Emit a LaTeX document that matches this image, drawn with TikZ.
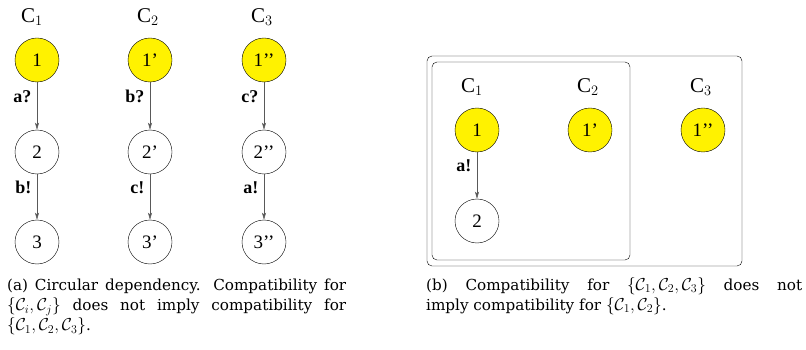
\documentclass[tikz,border=0pt]{standalone}
\usepackage{fontspec}
\newfontfamily\figfont{Liberation Serif}
\newfontfamily\capfont{DejaVu Serif}
\usetikzlibrary{arrows.meta}
\hyphenpenalty=10000
\exhyphenpenalty=10000
\DeclareMathSizes{15.2}{17.5}{12.5}{10}

\tikzset{
  state/.style={circle, draw, thin, minimum size=44pt, inner sep=0pt, font=\figfont\fontsize{19}{21}\selectfont},
  init/.style={state, fill=yellow},
  comp/.style={font=\figfont\fontsize{21}{23}\selectfont},
  act/.style={font=\figfont\bfseries\fontsize{18}{20}\selectfont},
  trans/.style={->, draw=black!65, semithick},
  caption/.style={anchor=north west, inner sep=0pt, align=justify,
    font=\capfont\fontsize{15.2}{20}\selectfont}
}

\begin{document}
\begin{tikzpicture}[x=1pt, y=-1pt, >={Stealth[length=7pt,width=4pt,inset=1.5pt]}]
  \useasboundingbox (0,0) rectangle (806,350);

  % (a) three components in a cycle
  \node[comp] (c1) at (32,17) {C$_1$};
  \node[comp] (c2) at (148,17) {C$_2$};
  \node[comp] (c3) at (262,17) {C$_3$};

  \node[init]  (a1) at (37,60)  {1};
  \node[state] (a2) at (37,152) {2};
  \node[state] (a3) at (37,242) {3};

  \node[init]  (b1) at (150,60)  {1’};
  \node[state] (b2) at (150,152) {2’};
  \node[state] (b3) at (150,242) {3’};

  \node[init]  (d1) at (264,60)  {1’’};
  \node[state] (d2) at (264,152) {2’’};
  \node[state] (d3) at (264,242) {3’’};

  \draw[trans] (a1) -- node[act, left=2pt, pos=0.3] {a?} (a2);
  \draw[trans] (a2) -- node[act, left=2pt, pos=0.3] {b!} (a3);
  \draw[trans] (b1) -- node[act, left=2pt, pos=0.3] {b?} (b2);
  \draw[trans] (b2) -- node[act, left=2pt, pos=0.3] {c!} (b3);
  \draw[trans] (d1) -- node[act, left=2pt, pos=0.3] {c?} (d2);
  \draw[trans] (d2) -- node[act, left=2pt, pos=0.3] {a!} (d3);

  \node[caption, text width=339pt] (capa) at (7,279)
    {(a) Circular dependency. Compatibility for\linebreak $\{\mathcal{C}_i,\mathcal{C}_j\}$ does not imply compatibility for\linebreak $\{\mathcal{C}_1,\mathcal{C}_2,\mathcal{C}_3\}$.};

  % (b) nested compositions
  \draw[rounded corners=5pt] (427,56) rectangle (742,266);
  \draw[rounded corners=5pt] (432,62) rectangle (630,260);

  \node[comp] (e1) at (472,87) {C$_1$};
  \node[comp] (e2) at (588,87) {C$_2$};
  \node[comp] (e3) at (701,87) {C$_3$};

  \node[init]  (f1) at (477,130) {1};
  \node[state] (f2) at (477,221) {2};
  \node[init]  (g1) at (590,130) {1’};
  \node[init]  (h1) at (703,130) {1’’};

  \draw[trans] (f1) -- node[act, left=2pt, pos=0.3] {a!} (f2);

  \node[caption, text width=376pt] (capb) at (426,277)
    {(b) Compatibility for $\{\mathcal{C}_1,\mathcal{C}_2,\mathcal{C}_3\}$ does not\linebreak imply compatibility for $\{\mathcal{C}_1,\mathcal{C}_2\}$.};
\end{tikzpicture}
\end{document}
